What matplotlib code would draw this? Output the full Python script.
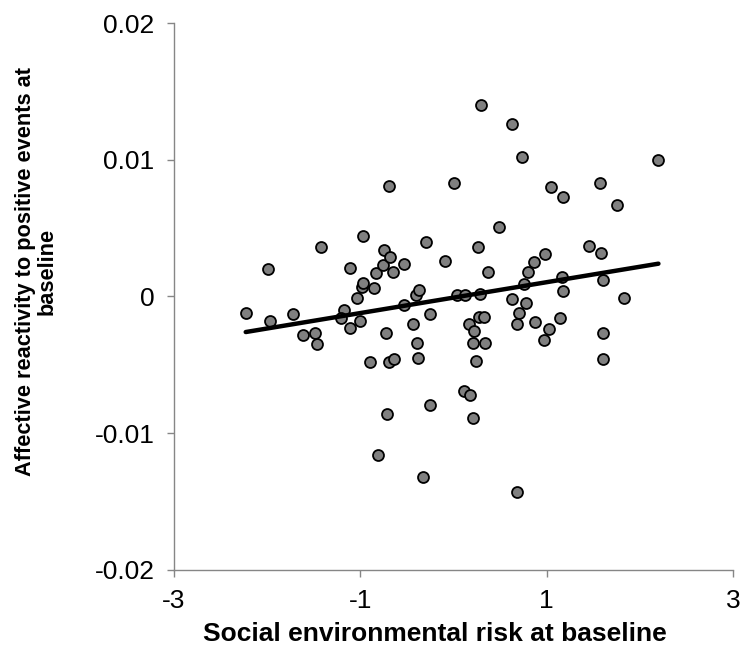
import numpy as np
import matplotlib
matplotlib.use('Agg')
import matplotlib.pyplot as plt

# Social environmental risk vs affective reactivity (baseline)
plt.rcParams['font.family'] = ['Liberation Sans', 'DejaVu Sans']

# Data
risk = [-2.23, -1.97, -1.99, -1.72, -1.61, -1.49, -1.46, -1.42, -1.18, -1.21,
        -1.11, -1.11, -1.00, -1.04, -0.98, -0.97, -0.97, -0.90, -0.85, -0.83,
        -0.81, -0.76, -0.75, -0.72, -0.71, -0.69, -0.68, -0.69, -0.65, -0.64,
        -0.53, -0.53, -0.43, -0.40, -0.37, -0.39, -0.38, -0.33, -0.29, -0.25,
        -0.25, -0.09, 0.005, 0.04, 0.11, 0.12, 0.17, 0.18, 0.21, 0.21,
        0.22, 0.24, 0.26, 0.27, 0.29, 0.30, 0.33, 0.34, 0.37, 0.49,
        0.63, 0.63, 0.68, 0.68, 0.70, 0.74, 0.76, 0.78, 0.80, 0.86,
        0.88, 0.97, 0.98, 1.02, 1.05, 1.14, 1.17, 1.18, 1.18, 1.45,
        1.57, 1.58, 1.61, 1.60, 1.61, 1.76, 1.83, 2.20]
reactivity = [-0.0012, -0.0018, 0.0020, -0.0013, -0.0028, -0.0027, -0.0035, 0.0036, -0.0010, -0.0016,
              -0.0023, 0.0021, -0.0018, -0.0001, 0.0007, 0.0010, 0.0044, -0.0048, 0.0006, 0.0017,
              -0.0116, 0.0023, 0.0034, -0.0027, -0.0086, 0.0081, 0.0029, -0.0048, 0.0018, -0.0046,
              0.0024, -0.0006, -0.0020, 0.0001, 0.0005, -0.0034, -0.0045, -0.0132, 0.0040, -0.0013,
              -0.0079, 0.0026, 0.0083, 0.0001, -0.0069, 0.0001, -0.0020, -0.0072, -0.0034, -0.0089,
              -0.0025, -0.0047, 0.0036, -0.0015, 0.0002, 0.0140, -0.0015, -0.0034, 0.0018, 0.0051,
              0.0126, -0.0002, -0.0020, -0.0143, -0.0012, 0.0102, 0.0009, -0.0005, 0.0018, 0.0025,
              -0.0019, -0.0032, 0.0031, -0.0024, 0.0080, -0.0016, 0.0014, 0.0004, 0.0073, 0.0037,
              0.0083, 0.0032, 0.0012, -0.0027, -0.0046, 0.0067, -0.0001, 0.0100]

# trend line end points
trend_x = [-2.23, 2.20]
trend_y = [-0.0026, 0.0024]

xticks = [-3, -1, 1, 3]
yticks = [-0.02, -0.01, 0, 0.01, 0.02]
ytick_labels = ['-0.02', '-0.01', '0', '0.01', '0.02']

fig = plt.figure(figsize=(7.4, 6.48), dpi=100)
ax = fig.add_axes([0.2351, 0.1204, 0.7554, 0.8441])

ax.scatter(risk, reactivity, s=62, facecolor='#808080', edgecolor='black',
           linewidth=1.3, zorder=3)
ax.plot(trend_x, trend_y, color='black', linewidth=3.2, solid_capstyle='round', zorder=4)

ax.set_xlim(-3, 3)
ax.set_ylim(-0.02, 0.02)
ax.set_xticks(xticks)
ax.set_xticklabels([str(t) for t in xticks])
ax.set_yticks(yticks)
ax.set_yticklabels(ytick_labels)

for side in ['top', 'right']:
    ax.spines[side].set_visible(False)
for side in ['left', 'bottom']:
    ax.spines[side].set_color('#868686')
    ax.spines[side].set_linewidth(1.0)
ax.tick_params(axis='both', direction='out', length=5, width=1.0, color='#868686',
               labelsize=19, pad=9)

ax.set_xlabel('Social environmental risk at baseline', fontsize=19, fontweight='bold')
ax.xaxis.set_label_coords(0.466, -0.095)
ax.set_ylabel('Affective reactivity to positive events at\nbaseline', fontsize=15.7,
              fontweight='bold', linespacing=1.05)
ax.yaxis.set_label_coords(-0.2075, 0.545)

fig.savefig('out.png', dpi=100, facecolor='white')
